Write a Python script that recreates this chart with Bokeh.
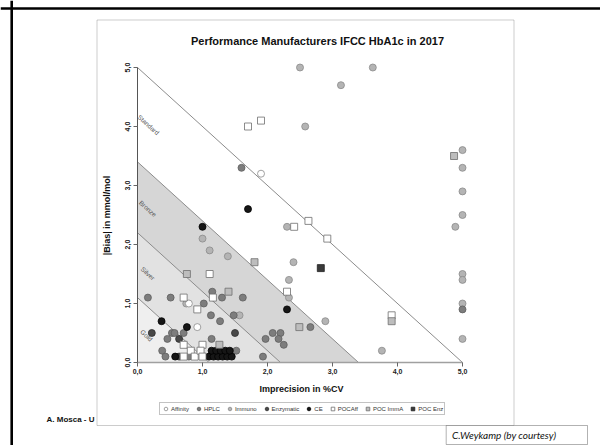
import math
from bokeh.plotting import figure
from bokeh.models import (Range1d, FixedTicker, Label, BoxAnnotation, Legend,
                          LegendItem, LinearAxis, Span)
from bokeh.embed import file_html
from bokeh.resources import INLINE

# ---------------- data ----------------
title_text = "Performance Manufacturers IFCC HbA1c in 2017"
x_title = "Imprecision in %CV"
y_title = "|Bias| in mmol/mol"

x_ticks = [0, 1, 2, 3, 4, 5]
x_tick_labels = ["0,0", "1,0", "2,0", "3,0", "4,0", "5,0"]
y_ticks = [0, 1, 2, 3, 4, 5]
y_tick_labels = ["0,0", "1,0", "2,0", "3,0", "4,0", "5,0"]

band_names = ["Standard", "Bronze", "Silver", "Gold"]
band_limits = [5.0, 3.4, 2.2, 1.1]          # |bias| + CV criterion lines
band_fill = [None, "#d6d6d6", "#e2e2e2", "#efefef"]
band_label_x = [0.17, 0.16, 0.16, 0.14]
band_label_y = [4.03, 2.61, 1.51, 0.46]

immuno_x = [1.00, 1.11, 1.39, 2.40, 2.33, 2.33, 2.30, 2.50, 3.62, 3.13, 2.58,
            2.89, 3.76, 1.57, 0.75, 5.0, 5.0, 5.0, 5.0, 5.0, 5.0, 5.0, 5.0, 4.89]
immuno_y = [2.1, 1.9, 1.8, 1.7, 1.4, 1.1, 2.3, 5.0, 5.0, 4.7, 4.0,
            0.7, 0.2, 0.8, 1.0, 3.6, 3.3, 2.9, 2.5, 1.5, 1.4, 1.0, 0.4, 2.3]

hplc_x = [1.60, 0.16, 0.51, 1.02, 1.15, 1.30, 1.62, 1.13, 1.27, 1.48, 0.71,
          0.53, 0.57, 0.46, 1.14, 1.52, 1.97, 2.08, 2.20, 2.17, 2.25, 2.66,
          1.93, 0.38, 0.43, 0.79, 5.0]
hplc_y = [3.3, 1.1, 1.1, 1.0, 1.2, 1.1, 1.1, 0.8, 0.7, 0.8, 0.5,
          0.5, 0.5, 0.4, 0.4, 0.2, 0.4, 0.5, 0.5, 0.4, 0.3, 0.6,
          0.1, 0.2, 0.1, 0.1, 0.9]

enzymatic_x = [0.22, 0.64, 1.50, 0.64]
enzymatic_y = [0.5, 0.4, 0.5, 0.1]

ce_x = [0.37, 0.76, 0.58, 1.00, 1.70, 2.30, 1.10, 1.17, 1.24, 1.31, 1.38,
        1.45, 1.14, 1.21, 1.28, 1.35, 1.42]
ce_y = [0.7, 0.6, 0.1, 2.3, 2.6, 0.9, 0.1, 0.1, 0.1, 0.1, 0.1,
        0.1, 0.2, 0.2, 0.2, 0.2, 0.2]

affinity_x = [1.90, 0.92, 0.79]
affinity_y = [3.2, 0.6, 1.0]

pocaff_x = [1.70, 1.90, 2.41, 2.63, 2.92, 2.30, 1.11, 0.71, 1.16, 0.92, 3.91,
            0.71, 0.82, 0.71, 0.88, 1.00, 0.97, 1.00]
pocaff_y = [4.0, 4.1, 2.3, 2.4, 2.1, 1.2, 1.5, 1.1, 1.1, 0.9, 0.8,
            0.3, 0.2, 0.1, 0.1, 0.3, 0.2, 0.1]

pocimma_x = [0.76, 1.80, 1.40, 2.49, 1.26, 3.91, 4.87]
pocimma_y = [1.5, 1.7, 1.2, 0.6, 0.3, 0.7, 3.5]

pocenz_x = [2.82]
pocenz_y = [1.6]

series = [
    # label, xs, ys, marker, fill, line
    ("Affinity", affinity_x, affinity_y, "circle", "#ffffff", "#8a8a8a"),
    ("HPLC", hplc_x, hplc_y, "circle", "#7d7d7d", "#5e5e5e"),
    ("Immuno", immuno_x, immuno_y, "circle", "#b4b4b4", "#8a8a8a"),
    ("Enzymatic", enzymatic_x, enzymatic_y, "circle", "#484848", "#303030"),
    ("CE", ce_x, ce_y, "circle", "#161616", "#000000"),
    ("POCAff", pocaff_x, pocaff_y, "square", "#ffffff", "#6e6e6e"),
    ("POC ImmA", pocimma_x, pocimma_y, "square", "#bdbdbd", "#6e6e6e"),
    ("POC Enz", pocenz_x, pocenz_y, "square", "#3a3a3a", "#222222"),
]
draw_order = ["Immuno", "HPLC", "Enzymatic", "Affinity", "CE", "POCAff",
              "POC ImmA", "POC Enz"]

# ---------------- layout (pixels) ----------------
# Bokeh's page template has no body margin, so canvas pixels == page pixels.
W, H = 600, 445
PX_X = 65.0      # pixels per unit CV
PX_Y = 59.0      # pixels per unit bias
OX, OY = 137, 362          # canvas pixel of the data origin (from top-left)
X_START, X_END = -OX / PX_X, (W - OX) / PX_X
Y_START, Y_END = -(H - OY) / PX_Y, OY / PX_Y


def dx(px):
    return (px - OX) / PX_X


def dy(py):
    return (OY - py) / PX_Y


FONT = "Liberation Sans"

p = figure(width=W, height=H, output_backend="svg", toolbar_location=None,
           x_range=Range1d(X_START, X_END), y_range=Range1d(Y_START, Y_END),
           x_axis_type=None, y_axis_type=None, min_border=0)
p.xgrid.visible = False
p.ygrid.visible = False
p.outline_line_color = None
p.background_fill_color = "white"
p.border_fill_color = "white"

# ---------------- decorations (slide) ----------------
p.add_layout(Span(location=dy(8.0), dimension="width", line_color="black",
                  line_width=2.6))
p.add_layout(Span(location=dx(11.2), dimension="height", line_color="black",
                  line_width=2.6))
p.add_layout(BoxAnnotation(left=dx(96.5), right=dx(513.5), top=dy(19.5), bottom=dy(425),
                           fill_color=None, line_color="#555555", line_width=1))

# ---------------- bands ----------------
for name, lim, col in sorted(zip(band_names, band_limits, band_fill), key=lambda t: -t[1]):
    if col is not None:
        p.patch([0, 0, lim], [0, lim, 0], fill_color=col, line_color=None)
for lim in band_limits:
    p.line([0, lim], [lim, 0], line_color="#8c8c8c", line_width=1)

ang = -math.atan(PX_Y / PX_X)
for name, bx, by in zip(band_names, band_label_x, band_label_y):
    p.add_layout(Label(x=bx, y=by, text=name, angle=ang, text_font=FONT,
                       text_font_size="6.5px", text_color="#555555",
                       text_align="center", text_baseline="middle"))

# ---------------- points ----------------
renderers = {}
lookup = {s[0]: s for s in series}
for name in draw_order:
    lab, xs, ys, mk, fc, lc = lookup[name]
    renderers[name] = p.scatter(xs, ys, marker=mk, size=7, fill_color=fc,
                                line_color=lc, line_width=0.8)

# ---------------- axes ----------------
xaxis = LinearAxis(fixed_location=0)
yaxis = LinearAxis(fixed_location=0)
for ax, ticks, labels in ((xaxis, x_ticks, x_tick_labels),
                          (yaxis, y_ticks, y_tick_labels)):
    ax.ticker = FixedTicker(ticks=ticks)
    ax.bounds = (ticks[0], ticks[-1])
    ax.major_label_overrides = {t: l for t, l in zip(ticks, labels)}
    ax.major_label_text_font = FONT
    ax.major_label_text_font_size = "7px"
    ax.major_label_text_font_style = "bold"
    ax.major_label_text_color = "#222222"
    ax.major_tick_in = 0
    ax.major_tick_out = 4
    ax.minor_tick_line_color = None
    ax.major_tick_line_color = "#666666"

xaxis.axis_line_color = "#a0a0a0"
xaxis.axis_line_width = 1.5
xaxis.major_label_standoff = 2
yaxis.axis_line_color = "#555555"
yaxis.axis_line_width = 1
yaxis.major_label_standoff = 4
yaxis.major_label_orientation = "vertical"
p.add_layout(xaxis, "below")
p.add_layout(yaxis, "left")

# ---------------- texts ----------------
p.add_layout(Label(x=dx(317), y=dy(40.5), text=title_text, text_font=FONT,
                   text_font_size="11px", text_font_style="bold",
                   text_color="#111111", text_align="center", text_baseline="middle"))
p.add_layout(Label(x=dx(301), y=dy(388), text=x_title, text_font=FONT,
                   text_font_size="9px", text_font_style="bold",
                   text_color="#111111", text_align="center", text_baseline="middle"))
p.add_layout(Label(x=dx(106), y=dy(215), text=y_title, text_font=FONT,
                   text_font_size="9px", text_font_style="bold", angle=math.pi / 2,
                   text_color="#111111", text_align="center", text_baseline="middle"))
p.add_layout(Label(x=dx(46), y=dy(418.5), text="A. Mosca - U", text_font=FONT,
                   text_font_size="8px", text_font_style="bold",
                   text_color="#111111", text_align="left", text_baseline="middle"))

p.add_layout(BoxAnnotation(left=dx(445.7), right=dx(587), top=dy(425), bottom=dy(444),
                           fill_color="white", fill_alpha=1, line_color="black",
                           line_width=1))
p.add_layout(Label(x=dx(451.5), y=dy(434.5), text="C.Weykamp (by courtesy)",
                   text_font="Lato", text_font_size="10px", text_font_style="italic",
                   text_color="#111111", text_align="left", text_baseline="middle"))

# ---------------- legend ----------------
items = [LegendItem(label=s[0], renderers=[renderers[s[0]]]) for s in series]
legend = Legend(items=items, orientation="horizontal", location=(159, 30),
                glyph_width=9, glyph_height=9, label_standoff=1, spacing=5,
                padding=1, margin=0, label_width=4, label_height=7,
                label_text_font=FONT, label_text_font_size="6px",
                label_text_color="#333333", border_line_color="#888888",
                border_line_width=1, background_fill_color="white",
                background_fill_alpha=1)
p.add_layout(legend)

open("out.html", "w").write(file_html(p, INLINE))
